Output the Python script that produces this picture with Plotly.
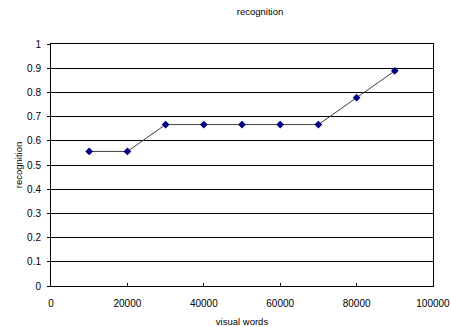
import plotly.graph_objects as go

visual_words = [10000, 20000, 30000, 40000, 50000, 60000, 70000, 80000, 90000]
recognition = [0.556, 0.556, 0.667, 0.667, 0.667, 0.667, 0.667, 0.778, 0.889]
x_ticks = [0, 20000, 40000, 60000, 80000, 100000]
y_ticks = [0, 0.1, 0.2, 0.3, 0.4, 0.5, 0.6, 0.7, 0.8, 0.9, 1]
y_tick_labels = ["0", "0.1", "0.2", "0.3", "0.4", "0.5", "0.6", "0.7", "0.8", "0.9", "1"]

fnt = dict(family="Liberation Sans, Arial, sans-serif", size=10, color="black")
tfnt = dict(family="Liberation Sans, Arial, sans-serif", size=9.5, color="black")

fig = go.Figure()
fig.add_trace(go.Scatter(
    x=visual_words, y=recognition, mode="lines+markers",
    line=dict(color="#404040", width=1),
    marker=dict(symbol="diamond", size=6, color="#000080"),
    showlegend=False, cliponaxis=False,
))

fig.update_layout(
    width=451, height=327,
    margin=dict(l=51, r=18, t=44, b=41, autoexpand=False),
    paper_bgcolor="white", plot_bgcolor="white",
    font=fnt,
    title=dict(text="recognition", x=260/451, xanchor="center", y=1-12/327, yanchor="middle",
               font=tfnt),
    xaxis=dict(range=[0, 100000], tickvals=x_ticks, ticktext=[str(v) for v in x_ticks],
               showgrid=False, zeroline=False, showline=True, linecolor="black", linewidth=1,
               mirror=True, ticks="inside", ticklen=3, tickcolor="black", automargin=False,
               ticklabelstandoff=8,
               title=dict(text="visual words", standoff=12, font=tfnt), tickfont=fnt),
    yaxis=dict(range=[0, 1], tickvals=y_ticks, ticktext=y_tick_labels,
               showgrid=True, gridcolor="black", gridwidth=1, zeroline=False,
               showline=True, linecolor="black", linewidth=1, mirror=True,
               ticks="outside", ticklen=3, tickcolor="black", automargin=False,
               ticklabelstandoff=4,
               title=dict(text="recognition", standoff=2, font=tfnt), tickfont=fnt),
)

fig.write_html("out.html", config={"displayModeBar": False},
               post_script="document.body.style.margin='0';document.body.style.padding='0';")
